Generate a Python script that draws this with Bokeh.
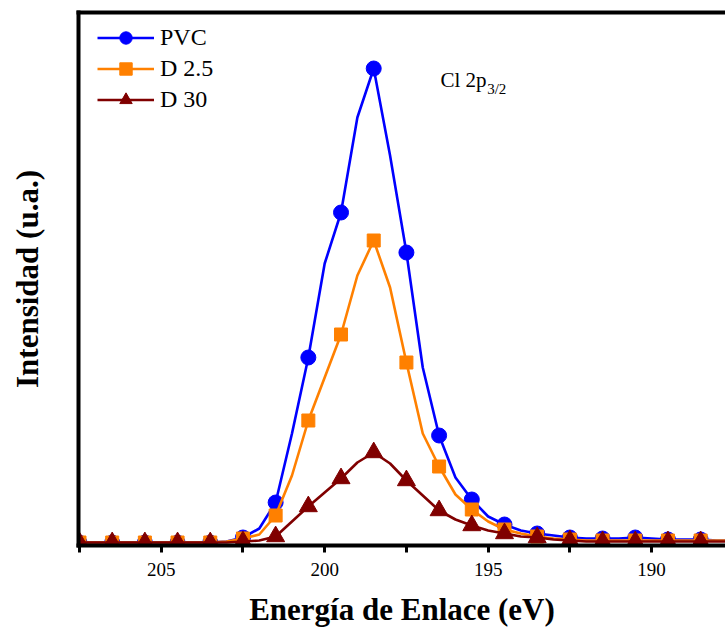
from bokeh.plotting import figure
from bokeh.models import (Range1d, FixedTicker, LinearAxis, Legend, LegendItem, Label)
from bokeh.embed import file_html
from bokeh.resources import INLINE

# ---------------- data ----------------
energy = [207.5, 207.0, 206.5, 206.0, 205.5, 205.0, 204.5, 204.0, 203.5, 203.0,
          202.5, 202.0, 201.5, 201.0, 200.5, 200.0, 199.5, 199.0, 198.5, 198.0,
          197.5, 197.0, 196.5, 196.0, 195.5, 195.0, 194.5, 194.0, 193.5, 193.0,
          192.5, 192.0, 191.5, 191.0, 190.5, 190.0, 189.5, 189.0, 188.5, 188.0,
          187.5]

pvc = [3, 3, 3, 3, 3, 3, 3, 3, 3, 4,
       8, 17, 43, 112, 188, 282, 333, 428, 477, 390,
       293, 178, 110, 68, 46, 29, 21, 15, 12, 10,
       8, 7, 7, 7, 8, 7, 6, 6, 6, 5,
       5]

d25 = [3, 3, 3, 3, 3, 3, 3, 3, 3, 4,
       7, 11, 30, 70, 125, 168, 211, 270, 305, 258,
       183, 112, 79, 51, 36, 24, 16, 12, 9, 7,
       6, 5, 5, 5, 5, 5, 5, 5, 5, 5,
       5]

d30 = [3, 3, 3, 3, 3, 3, 3, 3, 3, 3,
       4, 5, 9, 24, 39, 53, 67, 83, 93, 82,
       65, 50, 35, 26, 20, 15, 12, 9, 8, 6,
       5, 4, 4, 4, 4, 4, 4, 4, 4, 4,
       4]

series_names = ["PVC", "D 2.5", "D 30"]
major_ticks = [205, 200, 195, 190]
minor_ticks = [207.5, 202.5, 197.5, 192.5, 187.5]
annotation_main = "Cl 2p"
annotation_sub = "3/2"

FONT = "Liberation Serif"

p = figure(width=725, height=631, output_backend="svg", toolbar_location=None,
           x_range=Range1d(207.53, 187.74), y_range=Range1d(0, 533),
           min_border_left=78, min_border_right=0, min_border_top=12,
           min_border_bottom=86, outline_line_color=None,
           background_fill_color="white", border_fill_color="white")
p.grid.visible = False

# bottom axis
xa = p.xaxis[0]
xa.ticker = FixedTicker(ticks=major_ticks, minor_ticks=minor_ticks)
xa.axis_line_width = 4
xa.axis_line_cap = "square"
xa.major_tick_in = 0
xa.major_tick_out = 7
xa.minor_tick_in = 0
xa.minor_tick_out = 7
xa.major_tick_line_width = 3
xa.minor_tick_line_width = 3
xa.major_label_text_font = FONT
xa.major_label_text_font_size = "19px"
xa.major_label_text_color = "black"
xa.major_label_standoff = 10
xa.axis_label = "Energía de Enlace (eV)"
xa.axis_label_text_font = FONT
xa.axis_label_text_font_style = "bold"
xa.axis_label_text_font_size = "31px"
xa.axis_label_text_color = "black"
xa.axis_label_standoff = 13

# left axis
ya = p.yaxis[0]
ya.ticker = FixedTicker(ticks=[])
ya.axis_line_width = 4
ya.axis_line_cap = "square"
ya.major_tick_line_color = None
ya.minor_tick_line_color = None
ya.major_label_text_font_size = "0px"
ya.axis_label = "Intensidad (u.a.)"
ya.axis_label_text_font = FONT
ya.axis_label_text_font_style = "bold"
ya.axis_label_text_font_size = "31px"
ya.axis_label_text_color = "black"
ya.axis_label_standoff = 34

# top border as an axis line
top = LinearAxis(ticker=FixedTicker(ticks=[]), axis_line_width=4, axis_line_cap="square",
                 major_tick_line_color=None, minor_tick_line_color=None,
                 major_label_text_font_size="0px")
p.add_layout(top, "above")

colors = ["#0000FF", "#FF8000", "#800000"]
values = [pvc, d25, d30]
markers = ["circle", "square", "triangle"]
sizes = [15, 13, 18]

items = []
for name, vals, col, mk, sz in zip(series_names, values, colors, markers, sizes):
    lr = p.line(energy, vals, line_color=col, line_width=2.6)
    sr = p.scatter(energy[::2], vals[::2], marker=mk, size=sz,
                   fill_color=col, line_color=col)
    items.append(LegendItem(label=name, renderers=[lr, sr]))

legend = Legend(items=items, location=(19, 430), orientation="vertical",
                glyph_width=57, glyph_height=31, label_height=31,
                label_standoff=6, spacing=0, padding=0, margin=0,
                label_text_font=FONT, label_text_font_size="24px",
                label_text_color="black", border_line_color=None,
                background_fill_alpha=0)
p.add_layout(legend, "center")

p.add_layout(Label(x=196.46, y=466, text=annotation_main, text_font=FONT,
                   text_font_size="21px", text_color="black",
                   text_baseline="alphabetic"))
p.add_layout(Label(x=195.03, y=457, text=annotation_sub, text_font=FONT,
                   text_font_size="15px", text_color="black",
                   text_baseline="alphabetic"))

open("out.html", "w").write(file_html(p, INLINE))
